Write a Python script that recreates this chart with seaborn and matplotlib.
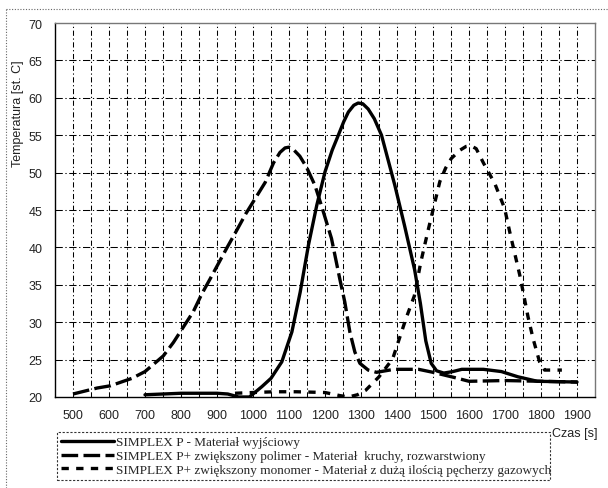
import numpy as np
import pandas as pd
import matplotlib
matplotlib.use("Agg")
import matplotlib.pyplot as plt
import seaborn as sns
from matplotlib.lines import Line2D

# ---- data ----
labels = [
    "SIMPLEX P - Materiał wyjściowy",
    "SIMPLEX P+ zwiększony polimer - Materiał  kruchy, rozwarstwiony",
    "SIMPLEX P+ zwiększony monomer - Materiał z dużą ilością pęcherzy gazowych",
]
t1 = [700, 750, 800, 850, 900, 930, 960, 990, 1025, 1050, 1080, 1108, 1131, 1154, 1177, 1200,
      1220, 1237, 1252, 1265, 1280, 1292, 1305, 1320, 1337, 1357, 1394, 1421, 1449, 1465, 1480,
      1495, 1510, 1530, 1555, 1580, 1640, 1690, 1736, 1790, 1900]
T1 = [20.3, 20.4, 20.5, 20.5, 20.5, 20.4, 20.0, 20.0, 21.4, 22.5, 24.7, 28.7, 34.0, 40.3, 45.6, 50.1,
      53.0, 55.0, 56.8, 58.1, 59.0, 59.3, 59.2, 58.5, 57.2, 55.0, 48.3, 42.9, 37.0, 32.5, 27.5,
      24.5, 23.5, 23.2, 23.4, 23.7, 23.7, 23.4, 22.7, 22.1, 22.0]
t2 = [500, 567, 604, 664, 700, 751, 779, 834, 858, 881, 927, 955, 980, 1034, 1057, 1075, 1089,
      1100, 1112, 1130, 1149, 1172, 1190, 1218, 1241, 1255, 1269, 1283, 1297, 1320, 1343, 1392,
      1460, 1500, 1560, 1600, 1700, 1800, 1900]
T2 = [20.4, 21.2, 21.5, 22.5, 23.4, 25.5, 27.3, 31.4, 33.8, 35.8, 39.9, 42.3, 44.5, 48.7, 51.3, 52.7, 53.3,
      53.4, 53.1, 52.2, 50.7, 48.3, 45.6, 41.2, 35.8, 32.7, 28.7, 26.0, 24.5, 23.6, 23.3, 23.7,
      23.7, 23.3, 22.6, 22.1, 22.2, 22.1, 22.0]
t3 = [950, 1000, 1060, 1120, 1200, 1240, 1265, 1290, 1313, 1350, 1388, 1425, 1448, 1466, 1485, 1500,
      1519, 1535, 1551, 1575, 1592, 1605, 1620, 1640, 1672, 1699, 1713, 1727, 1741, 1753, 1764,
      1778, 1796, 1810, 1858]
T3 = [20.5, 20.6, 20.7, 20.7, 20.6, 20.2, 20.0, 20.3, 20.9, 22.7, 25.1, 30.5, 33.5, 38.0, 42.0, 45.0,
      48.8, 50.6, 51.9, 53.0, 53.5, 53.6, 53.2, 51.3, 48.5, 45.2, 42.1, 39.2, 36.3, 33.4, 30.7,
      27.8, 24.7, 23.6, 23.6]
x_ticks = list(range(500, 2000, 100))
y_ticks = list(range(20, 75, 5))

df = pd.concat([
    pd.DataFrame({"Czas": t1, "Temp": T1, "seria": labels[0]}),
    pd.DataFrame({"Czas": t2, "Temp": T2, "seria": labels[1]}),
    pd.DataFrame({"Czas": t3, "Temp": T3, "seria": labels[2]}),
])

sns.set_style("white")
plt.rcParams["font.family"] = ["Liberation Sans", "DejaVu Sans"]

fig = plt.figure(figsize=(6.08, 4.89), dpi=100)
ax = fig.add_axes([55/608, 1-398/489, 540/608, 374/489])

dash_map = {labels[0]: "", labels[1]: (5, 1.6), labels[2]: (2.2, 2.2)}
sns.lineplot(data=df, x="Czas", y="Temp", hue="seria", style="seria",
             palette=["black"]*3, dashes=dash_map, linewidth=2.4,
             legend=False, ax=ax, estimator=None, sort=False)
for ln in ax.get_lines():
    ln.set_solid_joinstyle("round")
    ln.set_dash_joinstyle("round")

ax.set_xlim(450, 1950)
ax.set_ylim(20, 70)
ax.set_xticks(x_ticks)
ax.set_xticks(list(range(450, 1951, 50)), minor=True)
ax.set_yticks(y_ticks)
ax.set_xticklabels([str(v) for v in x_ticks], fontsize=9, color="#222222")
ax.set_yticklabels([str(v) for v in y_ticks], fontsize=9, color="#222222")
ax.tick_params(axis="both", which="both", direction="out", length=4, width=0.8,
               color="black", pad=5)
ax.set_xlabel("")
ax.set_ylabel("")

# dash-dot grid at every 50 s and every 5 deg
for xv in range(500, 1950, 50):
    ax.axvline(xv, color="black", lw=0.75, ls=(0, (5, 2.5, 1.2, 2.5)), zorder=0)
for yv in range(25, 70, 5):
    ax.axhline(yv, color="black", lw=0.75, ls=(0, (7, 2.5, 1.2, 2.5)), zorder=0)

for s in ["left", "bottom"]:
    ax.spines[s].set_color("black")
    ax.spines[s].set_linewidth(1.0)
for s in ["top", "right"]:
    ax.spines[s].set_color("#777777")
    ax.spines[s].set_linewidth(1.0)

fig.text(18/608, 1-114/489, "Temperatura [st. C]", rotation=90, ha="center", va="center",
         fontsize=9, color="#222222")
fig.text(575/608, 1-434/489, "Czas [s]", ha="center", va="center", fontsize=9, color="#222222")

handles = ax.get_lines()[:3]
leg = fig.legend(handles, labels, loc="lower left",
                 bbox_to_anchor=(57/608, 1-481/489, 493/608, 53/489), mode="expand",
                 prop={"family": "Liberation Serif", "size": 9.5},
                 handlelength=4.0, handletextpad=0.15, borderpad=0.3, labelspacing=0.12,
                 fancybox=False, frameon=True, borderaxespad=0)
fr = leg.get_frame()
fr.set_edgecolor("black")
fr.set_linestyle((0, (2, 1.5)))
fr.set_linewidth(0.8)

# outer dotted chart-area border (only top and left edges visible)
fig.add_artist(Line2D([6/608, 6/608], [0, 1-10/489], transform=fig.transFigure,
                      color="#666666", lw=0.8, ls=(0, (1, 1.5))))
fig.add_artist(Line2D([6/608, 1], [1-10/489, 1-10/489], transform=fig.transFigure,
                      color="#666666", lw=0.8, ls=(0, (1, 1.5))))

fig.savefig("out.png", dpi=100)
